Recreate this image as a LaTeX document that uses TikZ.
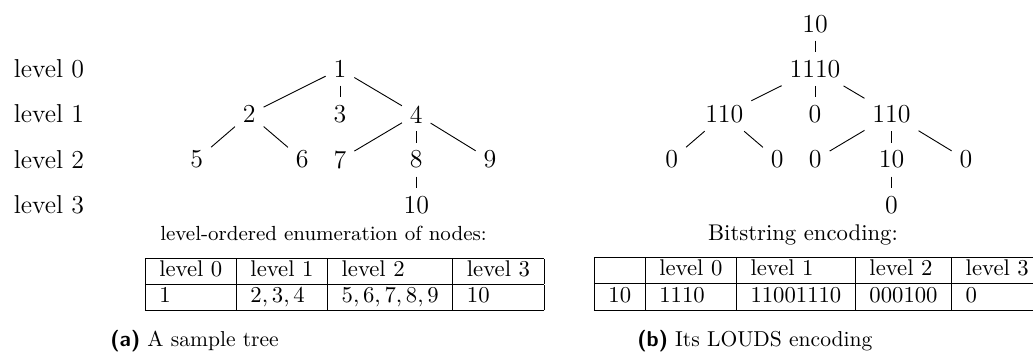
\documentclass[tikz,border=0pt]{standalone}
\usepackage{array}
\begin{document}
\begin{tikzpicture}[x=0.4405pt,y=-0.4405pt,
  tn/.style={font=\fontsize{11.4}{13.7}\selectfont},
  lvl/.style={font=\fontsize{11.4}{13.7}\selectfont, anchor=base west, inner sep=0pt},
  tbl/.style={inner sep=0pt, anchor=north west, font=\fontsize{10}{11.2}\selectfont},
  tcap/.style={anchor=base, inner sep=0pt},
  subcap/.style={anchor=base west, inner sep=0pt, font=\fontsize{9.5}{11}\selectfont},
  edge/.style={draw, line width=0.4pt}]
\useasboundingbox (0,0) rectangle (1033,352);

% level labels
\node[lvl] (l0) at (13.3,77.4) {level 0};
\node[lvl] (l1) at (13.3,122.7) {level 1};
\node[lvl] (l2) at (13.3,168) {level 2};
\node[lvl] (l3) at (13.3,213.3) {level 3};

% left tree
\node[tn] (n1) at (340,69) {1};
\node[tn] (n2) at (249.3,114.3) {2};
\node[tn] (n3) at (340,114.3) {3};
\node[tn] (n4) at (416.3,114.3) {4};
\node[tn] (n5) at (196.7,159.6) {5};
\node[tn] (n6) at (302.3,159.6) {6};
\node[tn] (n7) at (340,159.6) {7};
\node[tn] (n8) at (416.3,159.6) {8};
\node[tn] (n9) at (490,159.6) {9};
\node[tn] (n10) at (416.3,204.9) {10};
\foreach \a/\b in {n1/n2,n1/n3,n1/n4,n2/n5,n2/n6,n4/n7,n4/n8,n4/n9,n8/n10}
  \draw[edge] (\a) -- (\b);

% right tree
\node[tn] (r0) at (815,23.7) {10};
\node[tn] (ra) at (815,69) {1110};
\node[tn] (rb) at (724.3,114.3) {110};
\node[tn] (rc) at (815,114.3) {0};
\node[tn] (rd) at (891.5,114.3) {110};
\node[tn] (re) at (671.7,159.6) {0};
\node[tn] (rf) at (777.3,159.6) {0};
\node[tn] (rg) at (815.3,159.6) {0};
\node[tn] (rh) at (891.5,159.6) {10};
\node[tn] (ri) at (966,159.6) {0};
\node[tn] (rj) at (891.5,204.9) {0};
\foreach \a/\b in {r0/ra,ra/rb,ra/rc,ra/rd,rb/re,rb/rf,rd/rg,rd/rh,rd/ri,rh/rj}
  \draw[edge] (\a) -- (\b);

% tables
\node[tcap, font=\fontsize{9}{11}\selectfont] (capA) at (323.5,240) {level-ordered enumeration of nodes:};
\node[tbl] (tabA) at (144.3,257.3) {\begin{tabular}{|l|l|l|l|}\hline
level 0 & level 1 & level 2 & level 3\\\hline
1 & $2,3,4$ & $5,6,7,8,9$ & 10\\\hline
\end{tabular}};

\node[tcap, font=\fontsize{10}{12}\selectfont] (capB) at (803,240) {Bitstring encoding:};
\node[tbl] (tabB) at (593.5,256.7) {\begin{tabular}{|l|l|l|l|l|}\hline
 & level 0 & level 1 & level 2 & level 3\\\hline
10 & 1110 & 11001110 & 000100 & 0\\\hline
\end{tabular}};

% sub-captions
\node[subcap] (subA) at (110,346) {\textsf{\textbf{(a)}} A sample tree};
\node[subcap] (subB) at (637,346) {\textsf{\textbf{(b)}} Its LOUDS encoding};
\end{tikzpicture}
\end{document}
